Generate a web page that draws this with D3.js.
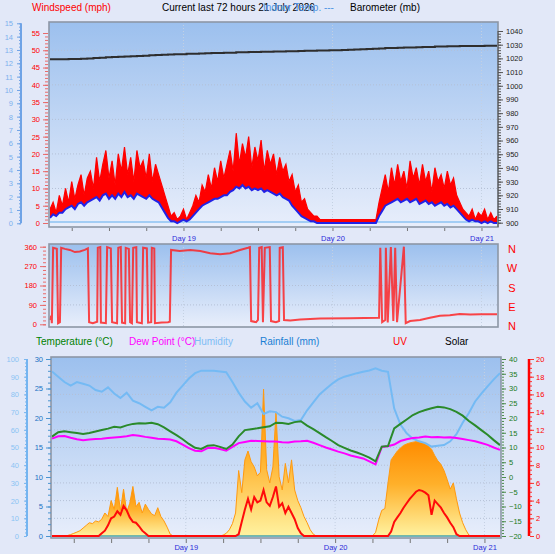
<!DOCTYPE html>
<html>
<head>
<meta charset="utf-8">
<script src="https://cdn.jsdelivr.net/npm/d3@7"></script>
<style>
  body { margin: 0; background: #e2e8f8; }
  svg { display: block; font-family: "Liberation Sans", Arial, sans-serif; }
</style>
</head>
<body>
<div id="chart"></div>
<script>
// ---- data (72 h starting 18 July 02:30) ----
const startTime = new Date(2026, 6, 18, 2, 30);

// wind, every 30 minutes (mph)
const gustMph = [4,6,3,8,5,
  10,6,12,7,11,14,8,13,
  15,10,19,12,17,21,13,18,11,20,15,22,14,19,12,21,16,18,13,20,12,17,14,
  11,8,5,
  2,3,1,2,4,1,3,5,
  8,6,11,9,14,10,16,12,18,13,17,
  21,15,26,17,23,19,25,16,22,18,24,15,21,17,20,14,19,15,17,12,
  14,9,11,6,7,4,
  3,2,2,1,1,1,
  1,1,1,1,1,1,1,1,1,1,1,1,1,1,1,1,
  6,10,14,9,16,11,17,12,15,10,18,13,16,11,17,12,15,9,16,12,14,10,15,11,13,8,
  6,4,3,2,4,1,3,2,4,1,3,1,2];
const avgMph = [1.5,2.5,2,3,3,
  4,4.5,5,4,5.5,6,5,6,
  6.5,7,7.5,6.5,8,8.5,7,8,7,8.5,7.5,9,7.5,8,7,8.5,8,7.5,7,8,7,6.5,6,
  4.5,3,1.5,
  0.5,0.5,0,0.5,1,0.5,1,2,
  3,4,5,5.5,6,6.5,7,7,7.5,8,8,
  9,9.5,10.5,10,11,10,10.5,9.5,10,9.5,10,9,9.5,9,8.5,8,8.5,7.5,7,6.5,
  5,4,3,2,1.5,1,
  0.5,0.5,0,0,0,0,
  0,0,0,0,0,0,0,0,0,0,0,0,0,0,0,0,
  2,3.5,5,5.5,6,6.5,7,6,6.5,7,6,6.5,7,5.5,6,6.5,5.5,6,5,5.5,6,5,5.5,4.5,5,4,
  3,2,1,0.5,1,0.5,0.5,0,0.5,0,0.5,0,0];

// barometer, hourly (mb)
const baroMb = [1019.3,1019.3,1019.4,1019.5,1019.6,1019.8,1020.0,1020.3,1020.5,
  1020.8,1021.0,1021.2,1021.4,1021.6,1021.8,1022.0,1022.2,1022.4,
  1022.6,1022.8,1023.0,1023.1,1023.3,1023.4,1023.6,1023.7,1023.9,
  1024.0,1024.1,1024.2,1024.4,1024.5,1024.6,1024.7,1024.8,1024.9,
  1025.0,1025.1,1025.2,1025.3,1025.4,1025.5,1025.6,1025.7,1025.8,
  1025.9,1026.0,1026.1,1026.3,1026.5,1026.7,1026.9,1027.1,1027.3,
  1027.5,1027.6,1027.8,1027.9,1028.0,1028.2,1028.3,1028.4,1028.6,
  1028.7,1028.8,1028.9,1029.0,1029.0,1029.1,1029.1,1029.2,1029.2,1029.2];

// wind direction samples (hours from start, degrees)
const dirHours = [0.0,0.2,0.3,0.5,1.1,1.3,1.6,1.8,2.4,3.2,4.0,4.8,5.6,6.1,6.3,6.9,7.6,7.7,8.1,8.2,
  9.0,9.2,9.8,10.0,10.8,11.0,11.4,11.6,12.1,12.2,12.7,12.9,13.2,13.4,13.9,14.0,14.8,15.0,15.6,15.8,
  16.3,16.4,16.8,16.9,18.0,19.0,19.3,19.5,20.9,22.6,24.2,25.8,27.4,29.0,30.6,31.9,32.2,32.4,33.2,33.5,
  33.7,34.1,34.3,34.6,35.4,35.6,36.4,36.9,37.0,37.5,37.7,38.7,40.3,41.9,43.5,48.3,53.0,53.2,53.5,54.0,
  54.1,54.4,54.9,55.3,55.6,55.9,57.0,57.3,58.0,59.6,61.2,62.8,64.4,66.0,67.7,69.3,72.0];
const dirDeg = [20,40,5,355,350,5,10,355,350,345,335,338,345,352,10,5,12,355,358,8,
  5,358,352,10,5,355,358,8,5,355,350,10,5,355,358,10,5,355,352,8,
  10,355,352,5,8,10,12,345,340,345,340,330,325,330,345,355,358,15,10,20,
  355,358,10,355,358,15,10,15,355,358,20,18,22,25,27,28,30,355,10,20,
  355,8,358,15,355,10,360,5,15,20,30,40,42,48,46,47,47];

// temperature, dew point (°C) and humidity (%), hourly
const tempC = [13.7,15.2,15.5,15.2,14.9,14.6,14.9,15.4,15.9,16.4,17.0,16.8,17.5,18.0,18.2,18.1,18.4,17.9,
  16.8,15.5,14.2,12.8,11.2,9.9,9.5,10.6,10.8,10.2,9.5,11.0,13.8,15.9,16.2,16.5,16.9,17.2,
  18.4,18.3,18.0,18.6,18.9,17.4,16.2,14.9,13.5,12.2,10.8,9.9,9.0,8.3,7.5,6.6,5.3,10.3,
  10.5,16.5,18.0,19.5,21.0,22.0,22.7,23.3,23.8,23.6,23.0,22.1,20.8,19.0,17.5,15.9,14.3,12.5,10.8];
const dewC = [13.0,13.8,13.9,13.3,12.8,12.5,12.7,12.9,13.0,13.2,13.4,13.6,13.8,14.2,14.0,13.6,13.3,13.0,
  12.9,12.7,12.1,11.0,9.8,8.9,8.7,9.8,9.9,9.5,8.9,10.2,11.5,11.9,12.3,12.2,12.1,12.0,
  12.0,11.8,11.7,12.0,12.1,12.3,11.6,10.8,10.0,9.3,8.6,8.0,7.3,6.8,6.3,5.3,4.3,10.2,
  10.4,11.0,12.2,12.8,13.2,13.4,13.7,13.5,13.6,13.4,13.5,13.2,12.9,12.5,12.1,11.5,10.9,10.0,9.2];
const humidity = [93,90,87,85,87,86,85,82.5,81.5,84,80.5,78,81,76.5,75,73,71,73,
  72.5,75.5,81,85,89,92,93.4,93.4,93.4,93,92.5,87,81,76,72.5,75,69,70.5,
  70,67.4,66.5,65,65.5,71,75.5,80,83,86,88.5,90,91,92,92.8,93.5,94.7,93.4,
  92.8,72,63,58,55,53.5,52.5,50.5,51,51.4,53.5,57.5,64,69.5,76,80.5,84.5,88.5,92];

// solar (W/m²) and UV index, every 30 minutes
const solarWm2 = [0,0,0,0,0,
  3,8,15,22,30,45,60,75,70,85,80,95,130,110,200,150,275,145,265,135,185,280,165,190,130,180,150,125,115,160,110,85,50,10,
  0,0,0,0,0,0,0,0,0,0,0,0,0,0,0,
  0,5,15,35,70,130,370,245,430,480,420,390,340,360,830,375,300,390,700,335,260,410,300,430,260,200,160,110,75,35,10,0,
  0,0,0,0,0,0,0,0,0,0,0,0,0,0,0,0,0,
  0,20,90,145,155,300,430,455,480,497,512,520,526,530,533,531,527,518,508,490,455,425,405,370,320,265,300,210,130,75,35,5,
  0,0,0,0,0,0,0,0,0,0];
const uvIndex = [0,0,0,0,0,0,0,0,0,0,0,0,0,0,0,0,
  0.3,0.6,1.2,2.0,2.2,2.8,2.4,3.4,2.9,2.1,1.6,1.5,1.1,0.6,0.3,
  0,0,0,0,0,0,0,0,0,0,0,0,0,0,0,0,0,0,0,0,0,0,0,0,0,0,0,0,0,
  0.2,1.6,3.0,4.2,3.0,4.4,3.8,4.0,5.2,3.8,3.4,4.4,5.6,3.3,3.7,2.6,3.3,2.6,1.9,0.9,0.3,
  0,0,0,0,0,0,0,0,0,0,0,0,0,0,0,0,0,0,0,0,0,0,0,0,0,0,0,0,
  0.5,1.6,2.1,2.6,3.2,3.7,4.2,4.6,5.0,5.2,5.1,4.9,4.6,2.4,4.0,3.6,3.2,2.6,2.1,1.5,1.0,0.2,
  0,0,0,0,0,0,0,0,0,0,0,0,0,0];

// rainfall (mm): none fell
const rainHours = [0, 72];
const rainMm = [0, 0];

// tick labels
const windTicks = [0,5,10,15,20,25,30,35,40,45,50,55];
const bftTicks = [0,1,2,3,4,5,6,7,8,9,10,11,12,13,14,15];
const baroTicks = [900,910,920,930,940,950,960,970,980,990,1000,1010,1020,1030,1040];
const dirTicks = [0,90,180,270,360];
const compassLabels = ["N","E","S","W","N"];
const humTicks = [0,10,20,30,40,50,60,70,80,90,100];
const rainTicks = [0,5,10,15,20,25,30];
const tempTicks = [-20,-15,-10,-5,0,5,10,15,20,25,30,35,40];
const uvTicks = [0,2,4,6,8,10,12,14,16,18,20];
const dayDates = [new Date(2026,6,19), new Date(2026,6,20), new Date(2026,6,21)];
const dayLabels = ["Day 19","Day 20","Day 21"];

// ---- drawing ----
const width = 555, height = 554;
const FONT = '"Liberation Sans", Arial, sans-serif';
const hr = h => new Date(startTime.getTime() + h * 3600000);
const halfHourTimes = gustMph.map((d, i) => hr(i / 2));
const hourTimes = baroMb.map((d, i) => hr(i));
const sixHours = d3.timeHour.every(6).range(hr(0), hr(72.01));
const plain = d3.format("d");

const svg = d3.select("#chart").append("svg")
    .attr("width", width)
    .attr("height", height);
const defs = svg.append("defs");

const bg = defs.append("linearGradient").attr("id", "plotBg")
    .attr("x1", 0).attr("y1", 0).attr("x2", 0).attr("y2", 1);
bg.append("stop").attr("offset", "0%").attr("stop-color", "#9cc0ee");
bg.append("stop").attr("offset", "100%").attr("stop-color", "#e8eefb");

const sun = defs.append("linearGradient").attr("id", "sunFill")
    .attr("x1", 0).attr("y1", 0).attr("x2", 0).attr("y2", 1);
sun.append("stop").attr("offset", "0%").attr("stop-color", "#ff8c00");
sun.append("stop").attr("offset", "45%").attr("stop-color", "#ffb02a");
sun.append("stop").attr("offset", "100%").attr("stop-color", "#fff2a0");

function plotBox(id, x0, y0, x1, y1) {
    defs.append("clipPath").attr("id", id).append("rect")
        .attr("x", x0).attr("y", y0).attr("width", x1 - x0).attr("height", y1 - y0);
    svg.append("rect")
        .attr("x", x0).attr("y", y0).attr("width", x1 - x0).attr("height", y1 - y0)
        .attr("fill", "url(#plotBg)");
    return svg.append("g").attr("clip-path", `url(#${id})`);
}
function frame(x0, y0, x1, y1) {
    svg.append("rect")
        .attr("x", x0).attr("y", y0).attr("width", x1 - x0).attr("height", y1 - y0)
        .attr("fill", "none").attr("stroke", "#8d96a6").attr("stroke-width", 1.6);
}
function hGrid(g, values, y, x0, x1) {
    g.selectAll(null).data(values).enter().append("line")
        .attr("x1", x0).attr("x2", x1)
        .attr("y1", d => y(d)).attr("y2", d => y(d))
        .attr("stroke", "#b4c0d6").attr("stroke-dasharray", "1,2");
}
function vGrid(g, x, y0, y1) {
    g.selectAll(null).data(dayDates).enter().append("line")
        .attr("x1", d => x(d)).attr("x2", d => x(d))
        .attr("y1", y0).attr("y2", y1)
        .attr("stroke", "#c4d0e2").attr("stroke-dasharray", "1,2");
}
function drawAxis(axis, tx, ty, color, size, textColor) {
    const g = svg.append("g").attr("transform", `translate(${tx},${ty})`).call(axis);
    g.attr("font-family", FONT).attr("font-size", size || 7);
    g.select(".domain").remove();
    g.selectAll(".tick line").attr("stroke", color);
    g.selectAll(".tick text").attr("fill", textColor || color);
    return g;
}
function vLine(x, y0, y1, color, w) {
    svg.append("line").attr("x1", x).attr("x2", x).attr("y1", y0).attr("y2", y1)
        .attr("stroke", color).attr("stroke-width", w);
}
function label(x, y, text, color, size) {
    svg.append("text").attr("x", x).attr("y", y).text(text)
        .attr("fill", color).attr("font-size", size || 10).attr("font-family", FONT);
}

// ===== top panel: wind speed + barometer =====
const xTop = d3.scaleTime().domain([hr(0), hr(72)]).range([50, 497]);
const windY = d3.scaleLinear().domain([0, 55]).range([223, 33]);
const bftY = d3.scaleLinear().domain([0, 15]).range([223.3, 23.3]);
const baroY = d3.scaleLinear().domain([900, 1040]).range([222.7, 31]);

const topG = plotBox("clipTop", 49, 22, 498, 227);
hGrid(topG, [10, 20, 30, 40, 50], windY, 49, 498);
vGrid(topG, xTop, 22, 227);

topG.append("path").datum(baroMb)
    .attr("d", d3.line().x((d, i) => xTop(hourTimes[i])).y(d => baroY(d)).curve(d3.curveStepAfter))
    .attr("fill", "none").attr("stroke", "#2e2e2e").attr("stroke-width", 2);

topG.append("path").datum(rainHours)
    .attr("d", d3.line().x(d => xTop(hr(d))).y(() => windY(0) - 1))
    .attr("stroke", "#8cc2f2").attr("stroke-width", 1.5);

topG.append("path").datum(gustMph)
    .attr("d", d3.area()
        .x((d, i) => xTop(halfHourTimes[i]))
        .y0((d, i) => windY(avgMph[i]))
        .y1(d => windY(d)))
    .attr("fill", "#ff0000");
topG.append("path").datum(gustMph)
    .attr("d", d3.line().x((d, i) => xTop(halfHourTimes[i])).y(d => windY(d)))
    .attr("fill", "none").attr("stroke", "#ff0000").attr("stroke-width", 1.2);
topG.append("path").datum(avgMph)
    .attr("d", d3.line().x((d, i) => xTop(halfHourTimes[i])).y(d => windY(d)))
    .attr("fill", "none").attr("stroke", "#2222e6").attr("stroke-width", 2);
frame(49, 22, 498, 227);

drawAxis(d3.axisLeft(windY).tickValues(d3.range(0, 56, 1)).tickSize(3).tickFormat(""), 48, 0, "#e86a6a");
drawAxis(d3.axisLeft(windY).tickValues(windTicks).tickSize(5).tickPadding(3), 48, 0, "#e86a6a", 7.5, "#ff0000");
drawAxis(d3.axisLeft(bftY).tickValues(d3.range(0, 15.01, 0.25)).tickSize(2).tickFormat(""), 21, 0, "#6fa3e6");
drawAxis(d3.axisLeft(bftY).tickValues(bftTicks).tickSize(4).tickPadding(4), 21, 0, "#6fa3e6", 7.5, "#7cb0ee");
vLine(21, bftY(0), bftY(15), "#6fa3e6", 2);
drawAxis(d3.axisRight(baroY).tickValues(d3.range(900, 1041, 2)).tickSize(3).tickFormat(""), 498, 0, "#555");
drawAxis(d3.axisRight(baroY).tickValues(baroTicks).tickSize(5).tickPadding(3).tickFormat(plain), 498, 0, "#555", 7.5, "#222");
vLine(498, baroY(1040), 227, "#555", 1);
drawAxis(d3.axisBottom(xTop).tickValues(sixHours).tickSize(3).tickFormat(""), 0, 228, "#777");
drawAxis(d3.axisBottom(xTop).tickValues(dayDates).tickSize(0).tickPadding(8)
    .tickFormat((d, i) => dayLabels[i]), 0, 228, "#777", 7.5, "#2b2bd9");

// ===== middle panel: wind direction =====
const dirY = d3.scaleLinear().domain([0, 360]).range([324.3, 246.7]);
const midG = plotBox("clipMid", 49, 244, 498, 327);
hGrid(midG, [90, 180, 270], dirY, 49, 498);
vGrid(midG, xTop, 244, 327);
midG.append("path").datum(dirDeg)
    .attr("d", d3.line().x((d, i) => xTop(hr(dirHours[i]))).y(d => dirY(d)))
    .attr("fill", "none").attr("stroke", "#ff1a1a").attr("stroke-width", 2)
    .attr("stroke-opacity", 0.8);
frame(49, 244, 498, 327);
drawAxis(d3.axisLeft(dirY).tickValues(d3.range(0, 361, 18)).tickSize(3).tickFormat(""), 46, 0, "#e86a6a");
drawAxis(d3.axisLeft(dirY).tickValues(dirTicks).tickSize(6).tickPadding(3), 46, 0, "#e86a6a", 7.5, "#ff0000");
svg.selectAll("text.compass").data(compassLabels).enter().append("text")
    .attr("class", "compass")
    .attr("x", 512).attr("y", (d, i) => dirY(dirTicks[i]) + 6)
    .attr("text-anchor", "middle").attr("fill", "#ff0000")
    .attr("font-size", 11).attr("font-family", FONT)
    .text(d => d);

// ===== bottom panel: temperature, humidity, solar, UV =====
const xBot = d3.scaleTime().domain([hr(0), hr(72)]).range([52, 500]);
const humY = d3.scaleLinear().domain([0, 100]).range([536, 359]);
const rainY = d3.scaleLinear().domain([0, 30]).range([536, 359]);
const tempY = d3.scaleLinear().domain([-20, 40]).range([536, 359]);
const uvY = d3.scaleLinear().domain([0, 20]).range([536, 359]);
const solarY = d3.scaleLinear().domain([0, 1000]).range([536, 359]);

const botG = plotBox("clipBot", 51, 357, 501, 538);
hGrid(botG, humTicks.slice(1, 10), humY, 51, 501);
vGrid(botG, xBot, 357, 538);

// solar: one shape per daylight run so each gets its own orange-to-yellow fill
const runs = [];
let run = null;
solarWm2.forEach((v, i) => {
    if (v > 0) {
        if (!run) run = i > 0 ? [i - 1] : [];
        run.push(i);
    } else if (run) {
        run.push(i);
        runs.push(run);
        run = null;
    }
});
const sunArea = d3.area().x(i => xBot(halfHourTimes[i])).y0(solarY(0)).y1(i => solarY(solarWm2[i]));
const sunLine = d3.line().x(i => xBot(halfHourTimes[i])).y(i => solarY(solarWm2[i]));
runs.forEach(r => {
    botG.append("path").datum(r).attr("d", sunArea).attr("fill", "url(#sunFill)");
    botG.append("path").datum(r).attr("d", sunLine)
        .attr("fill", "none").attr("stroke", "#ff9a10").attr("stroke-width", 1);
});

botG.append("path").datum(rainMm)
    .attr("d", d3.line().x((d, i) => xBot(hr(rainHours[i]))).y(d => rainY(d)))
    .attr("stroke", "#4aa3a8").attr("stroke-width", 1.5);
botG.append("path").datum(uvIndex)
    .attr("d", d3.line().x((d, i) => xBot(halfHourTimes[i])).y(d => uvY(d)))
    .attr("fill", "none").attr("stroke", "#ff0a0a").attr("stroke-width", 2);
botG.append("path").datum(humidity)
    .attr("d", d3.line().x((d, i) => xBot(hourTimes[i])).y(d => humY(d)))
    .attr("fill", "none").attr("stroke", "#74baf4").attr("stroke-width", 2);
botG.append("path").datum(dewC)
    .attr("d", d3.line().x((d, i) => xBot(hourTimes[i])).y(d => tempY(d)))
    .attr("fill", "none").attr("stroke", "#ff00ff").attr("stroke-width", 2);
botG.append("path").datum(tempC)
    .attr("d", d3.line().x((d, i) => xBot(hourTimes[i])).y(d => tempY(d)))
    .attr("fill", "none").attr("stroke", "#2a8a2a").attr("stroke-width", 2);
frame(51, 357, 501, 538);

drawAxis(d3.axisLeft(humY).tickValues(d3.range(0, 101, 2)).tickSize(2).tickFormat(""), 27, 0, "#7ab6ee");
drawAxis(d3.axisLeft(humY).tickValues(humTicks).tickSize(3).tickPadding(5), 27, 0, "#7ab6ee", 7.5, "#8cc4f4");
vLine(27, humY(0), humY(100), "#74b4f0", 2);
drawAxis(d3.axisLeft(rainY).tickValues(d3.range(0, 31, 1)).tickSize(3).tickFormat(""), 51, 0, "#4a94d0");
drawAxis(d3.axisLeft(rainY).tickValues(rainTicks).tickSize(5).tickPadding(3), 51, 0, "#4a94d0", 7.5, "#1a72c4");
drawAxis(d3.axisRight(tempY).tickValues(d3.range(-20, 41, 1)).tickSize(2).tickFormat(""), 502, 0, "#4a8a4a");
drawAxis(d3.axisRight(tempY).tickValues(tempTicks).tickSize(4).tickPadding(3), 502, 0, "#4a8a4a", 7.5, "#1a7a1a");
vLine(529, uvY(0), uvY(20), "#ff0000", 2.5);
drawAxis(d3.axisRight(uvY).tickValues(d3.range(0, 20.01, 0.5)).tickSize(2).tickFormat(""), 530, 0, "#ff3030");
drawAxis(d3.axisRight(uvY).tickValues(uvTicks).tickSize(4).tickPadding(2), 530, 0, "#ff3030", 7.5, "#ff0000");
drawAxis(d3.axisBottom(xBot).tickValues(sixHours).tickSize(4).tickFormat(""), 0, 539, "#777");
drawAxis(d3.axisBottom(xBot).tickValues(dayDates).tickSize(0).tickPadding(6)
    .tickFormat((d, i) => dayLabels[i]), 0, 539, "#777", 7.5, "#2b2bd9");

// ===== titles =====
label(32, 11, "Windspeed (mph)", "#ff0000");
label(162, 11, "Current last 72 hours 21 July 2026", "#000");
label(263, 11, "Indoor Temp. ---", "#4f95e4");
label(350, 11, "Barometer (mb)", "#000");
label(36, 345, "Temperature (°C)", "#008000");
label(129, 345, "Dew Point (°C)", "#ff00ff");
label(194, 345, "Humidity", "#7fbdf6");
label(260, 345, "Rainfall (mm)", "#1a7fd4");
label(393, 345, "UV", "#ff0000");
label(445, 345, "Solar", "#000");
</script>
</body>
</html>
